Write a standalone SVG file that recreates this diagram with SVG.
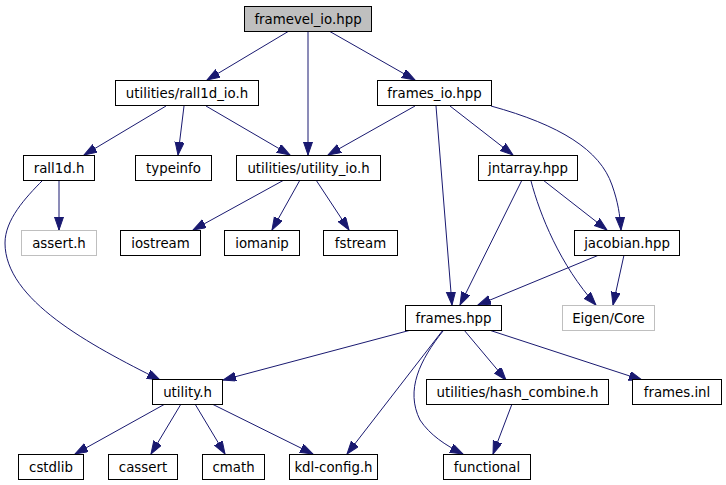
<svg xmlns="http://www.w3.org/2000/svg" width="726" height="485" viewBox="0 0 726 485">
<defs>
<marker id="ah" markerUnits="userSpaceOnUse" markerWidth="14" markerHeight="10" refX="13" refY="4.5" orient="auto">
<path d="M0,0 L13,4.5 L0,9 z" fill="#191970" stroke="#191970" stroke-width="1"/>
</marker>
<style>
.n rect{fill:#ffffff;stroke:#000000;stroke-width:1}
.g rect{stroke:#bfbfbf}
.root rect{fill:#bfbfbf}
text{font-family:"DejaVu Sans",sans-serif;font-size:13.33px;fill:#000000;text-anchor:middle}
.e path{fill:none;stroke:#191970;stroke-width:1;marker-end:url(#ah)}
</style>
</defs>
<rect width="726" height="485" fill="#ffffff"/>
<g class="e" id="edges">
<path d="M289,31 L207,80"/>
<path d="M308,31 L308,155"/>
<path d="M329,31 L415,80"/>
<path d="M166,106 L84,155"/>
<path d="M184,106 L178,155"/>
<path d="M206,106 L290,155"/>
<path d="M415,106 L328,155"/>
<path d="M436,106 L452,305"/>
<path d="M450,106 L513,155"/>
<path d="M491,106 C560,125 600,150 612,185 C618,202 620,215 621,230"/>
<path d="M43,180 C25,198 5,220 5,243 C5,300 90,345 160,380"/>
<path d="M59,180 L59,230"/>
<path d="M284,180 L193,230"/>
<path d="M300,180 L272,230"/>
<path d="M316,180 L349,230"/>
<path d="M522,180 L460,305"/>
<path d="M531,181 C540,215 560,265 596,305"/>
<path d="M543,180 L607,230"/>
<path d="M599,255 L478,305"/>
<path d="M624,255 L613,305"/>
<path d="M411,330 L223,380"/>
<path d="M443,330 L347,454"/>
<path d="M443,331 C420,360 405,390 420,420 C430,435 445,445 463,454"/>
<path d="M464,330 L506,380"/>
<path d="M489,330 L642,380"/>
<path d="M165,404 L75,454"/>
<path d="M181,404 L151,454"/>
<path d="M195,404 L225,454"/>
<path d="M212,404 L313,454"/>
<path d="M512,404 L493,454"/>
</g>
<g class="n root" id="framevel_io"><rect x="244.5" y="6.5" width="127" height="25"/><text x="308" y="23.5">framevel_io.hpp</text></g>
<g class="n" id="rall1d_io"><rect x="115.5" y="80.5" width="143" height="25"/><text x="187" y="97.5">utilities/rall1d_io.h</text></g>
<g class="n" id="frames_io"><rect x="377.5" y="80.5" width="114" height="25"/><text x="434.5" y="97.5">frames_io.hpp</text></g>
<g class="n" id="rall1d"><rect x="23.5" y="155.5" width="71" height="25"/><text x="59" y="172.5">rall1d.h</text></g>
<g class="n" id="typeinfo"><rect x="135.5" y="155.5" width="76" height="25"/><text x="173.5" y="172.5">typeinfo</text></g>
<g class="n" id="utility_io"><rect x="236.5" y="155.5" width="144" height="25"/><text x="308.5" y="172.5">utilities/utility_io.h</text></g>
<g class="n" id="jntarray"><rect x="478.5" y="155.5" width="99" height="25"/><text x="528" y="172.5">jntarray.hpp</text></g>
<g class="n g" id="assert"><rect x="21.5" y="230.5" width="75" height="25"/><text x="59" y="247.5">assert.h</text></g>
<g class="n" id="iostream"><rect x="120.5" y="230.5" width="80" height="25"/><text x="160.5" y="247.5">iostream</text></g>
<g class="n" id="iomanip"><rect x="224.5" y="230.5" width="75" height="25"/><text x="262" y="247.5">iomanip</text></g>
<g class="n" id="fstream"><rect x="323.5" y="230.5" width="74" height="25"/><text x="360.5" y="247.5">fstream</text></g>
<g class="n" id="jacobian"><rect x="574.5" y="230.5" width="105" height="25"/><text x="627" y="247.5">jacobian.hpp</text></g>
<g class="n" id="frames"><rect x="405.5" y="305.5" width="96" height="25"/><text x="453.5" y="322.5">frames.hpp</text></g>
<g class="n g" id="eigen"><rect x="562.5" y="305.5" width="92" height="25"/><text x="608.5" y="322.5">Eigen/Core</text></g>
<g class="n" id="utility"><rect x="152.5" y="379.5" width="70" height="25"/><text x="187.5" y="396.5">utility.h</text></g>
<g class="n" id="hash_combine"><rect x="426.5" y="379.5" width="182" height="25"/><text x="517.5" y="396.5">utilities/hash_combine.h</text></g>
<g class="n" id="frames_inl"><rect x="632.5" y="379.5" width="89" height="25"/><text x="677" y="396.5">frames.inl</text></g>
<g class="n" id="cstdlib"><rect x="18.5" y="454.5" width="65" height="25"/><text x="51" y="471.5">cstdlib</text></g>
<g class="n" id="cassert"><rect x="108.5" y="454.5" width="69" height="25"/><text x="143" y="471.5">cassert</text></g>
<g class="n" id="cmath"><rect x="202.5" y="454.5" width="62" height="25"/><text x="233.5" y="471.5">cmath</text></g>
<g class="n" id="kdl_config"><rect x="289.5" y="454.5" width="88" height="25"/><text x="333.5" y="471.5">kdl-config.h</text></g>
<g class="n" id="functional"><rect x="443.5" y="454.5" width="87" height="25"/><text x="487" y="471.5">functional</text></g>
</svg>
